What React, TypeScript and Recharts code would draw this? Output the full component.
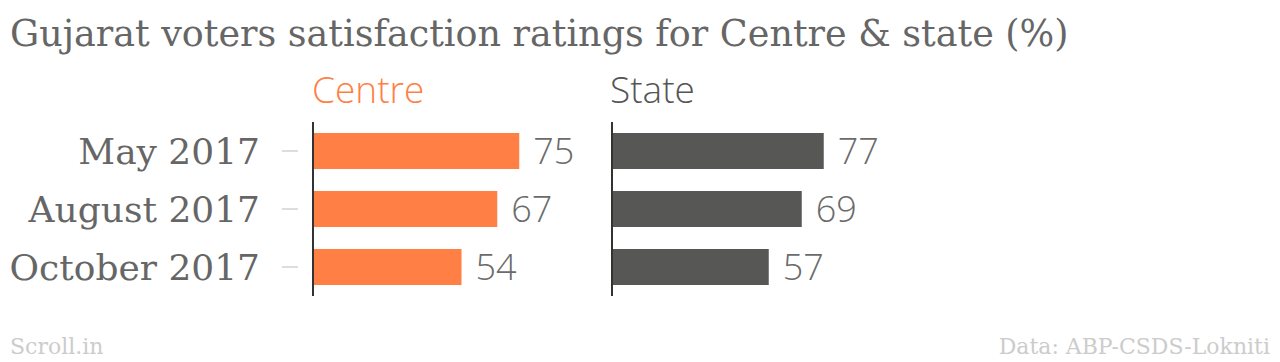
import { BarChart, Bar, XAxis, YAxis, LabelList } from 'recharts'

const periods = ['May 2017', 'August 2017', 'October 2017']
const centreValues = [75, 67, 54]
const stateValues = [77, 69, 57]

const data = periods.map((period, i) => ({
  period,
  centre: centreValues[i],
  state: stateValues[i],
}))

const serif = '"DejaVu Serif", serif'
const sans = '"Open Sans", sans-serif'

const PeriodTick = (props: any) => {
  const { x, y, payload } = props
  return (
    <g>
      <line x1={x - 31} x2={x - 15} y1={y} y2={y} stroke="#dddddd" strokeWidth={2} />
      <text
        x={x - 53}
        y={y}
        textAnchor="end"
        dominantBaseline="central"
        fontFamily={serif}
        fontSize={36}
        fill="#666666"
      >
        {payload.value}
      </text>
    </g>
  )
}

const valueLabel = {
  position: 'right' as const,
  offset: 14,
  fontFamily: sans,
  fontWeight: 300,
  fontSize: 36,
  fill: '#6b6b6b',
}

export default function App() {
  return (
    <div
      style={{
        position: 'absolute',
        left: 0,
        top: 0,
        width: 1280,
        height: 362,
        background: '#ffffff',
        overflow: 'hidden',
      }}
    >
      <div
        style={{
          position: 'absolute',
          left: 10,
          top: 12,
          fontFamily: serif,
          fontSize: 36.5,
          color: '#666666',
          whiteSpace: 'nowrap',
        }}
      >
        Gujarat voters satisfaction ratings for Centre &amp; state (%)
      </div>

      <div
        style={{
          position: 'absolute',
          left: 312,
          top: 63,
          fontFamily: sans,
          fontWeight: 300,
          fontSize: 37,
          color: '#ff7f45',
        }}
      >
        Centre
      </div>
      <div
        style={{
          position: 'absolute',
          left: 610,
          top: 63,
          fontFamily: sans,
          fontWeight: 300,
          fontSize: 37,
          color: '#555555',
        }}
      >
        State
      </div>

      <div style={{ position: 'absolute', left: 0, top: 122 }}>
        <BarChart
          width={668}
          height={174}
          data={data}
          layout="vertical"
          margin={{ top: 0, right: 80, bottom: 0, left: 0 }}
          barCategoryGap={11}
        >
          <XAxis type="number" domain={[0, 100]} hide />
          <YAxis
            type="category"
            dataKey="period"
            width={313}
            axisLine={{ stroke: '#333333', strokeWidth: 2 }}
            tickLine={false}
            tickSize={0}
            tickMargin={0}
            tick={<PeriodTick />}
          />
          <Bar dataKey="centre" fill="#ff7f45" barSize={36} isAnimationActive={false}>
            <LabelList dataKey="centre" {...valueLabel} />
          </Bar>
        </BarChart>
      </div>

      <div style={{ position: 'absolute', left: 572, top: 122 }}>
        <BarChart
          width={395}
          height={174}
          data={data}
          layout="vertical"
          margin={{ top: 0, right: 80, bottom: 0, left: 0 }}
          barCategoryGap={11}
        >
          <XAxis type="number" domain={[0, 100]} hide />
          <YAxis
            type="category"
            dataKey="period"
            width={40}
            axisLine={{ stroke: '#333333', strokeWidth: 2 }}
            tickLine={false}
            tick={false}
          />
          <Bar dataKey="state" fill="#575756" barSize={36} isAnimationActive={false}>
            <LabelList dataKey="state" {...valueLabel} />
          </Bar>
        </BarChart>
      </div>

      <div
        style={{
          position: 'absolute',
          left: 10,
          top: 334,
          fontFamily: serif,
          fontSize: 22,
          color: '#cccccc',
        }}
      >
        Scroll.in
      </div>
      <div
        style={{
          position: 'absolute',
          right: 10,
          top: 334,
          fontFamily: serif,
          fontSize: 22,
          color: '#cccccc',
        }}
      >
        Data: ABP-CSDS-Lokniti
      </div>
    </div>
  )
}
